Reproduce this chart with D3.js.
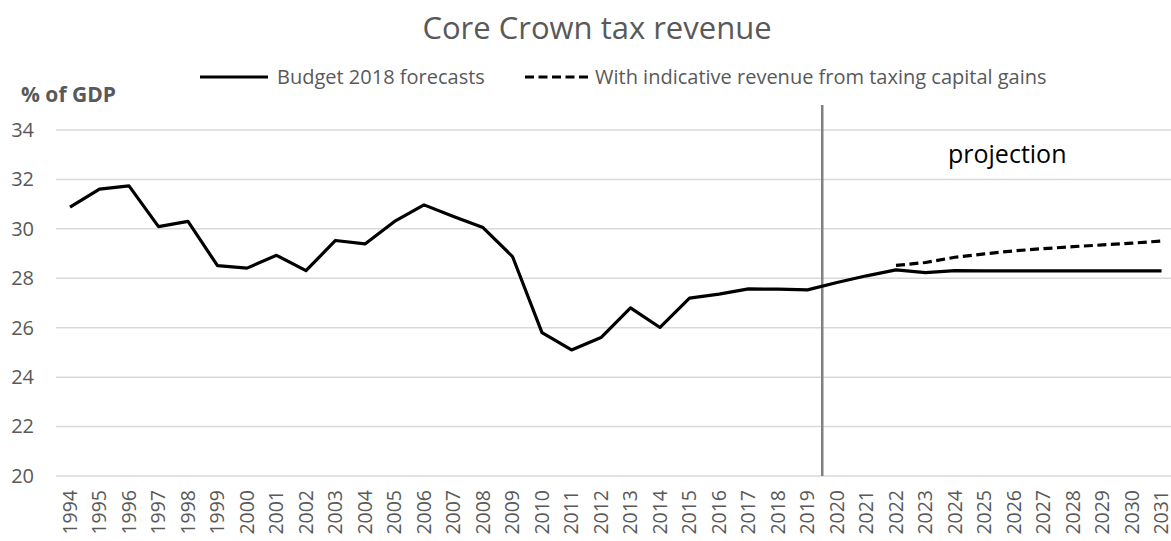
<!DOCTYPE html>
<html>
<head>
<meta charset="utf-8">
<script src="https://cdn.jsdelivr.net/npm/d3@7"></script>
<style>
  html, body { margin: 0; padding: 0; background: #fff; }
  svg { display: block; font-family: "Open Sans", "Noto Sans", sans-serif; }
</style>
</head>
<body>
<svg id="chart" width="1171" height="541"></svg>
<script>
// Fiscal years shown on the category axis
const years = d3.range(1994, 2032).map(String);

// Core Crown tax revenue, % of GDP (Budget 2018 forecasts)
const budgetForecast = [
  30.88, 31.61, 31.74, 30.09, 30.30, 28.51, 28.41, 28.93, 28.31, 29.53,
  29.39, 30.30, 30.97, 30.50, 30.05, 28.88, 25.80, 25.10, 25.60, 26.80,
  26.01, 27.20, 27.36, 27.57, 27.56, 27.53, 27.83, 28.10, 28.34, 28.23,
  28.31, 28.30, 28.30, 28.30, 28.30, 28.30, 28.30, 28.30
];

// With indicative revenue from taxing capital gains (from 2022)
const withCapitalGains = [
  null, null, null, null, null, null, null, null, null, null,
  null, null, null, null, null, null, null, null, null, null,
  null, null, null, null, null, null, null, null, 28.52, 28.64,
  28.85, 28.99, 29.11, 29.20, 29.28, 29.35, 29.42, 29.51
];

const yTicks = [20, 22, 24, 26, 28, 30, 32, 34];
const seriesNames = ["Budget 2018 forecasts", "With indicative revenue from taxing capital gains"];
const projectionStart = "2020";

const svg = d3.select("#chart");
const textColor = "#595959";

const x = d3.scalePoint().domain(years).range([55.25, 1176.25]).padding(0.5);
const y = d3.scaleLinear().domain([20, 34]).range([476, 130]);
const step = x.step();

// Title
svg.append("text")
  .attr("x", 597).attr("y", 39)
  .attr("text-anchor", "middle")
  .attr("font-size", 31)
  .attr("fill", textColor)
  .text("Core Crown tax revenue");

// Horizontal gridlines
svg.append("g")
  .selectAll("line")
  .data(yTicks)
  .join("line")
  .attr("x1", 56).attr("x2", 1176)
  .attr("y1", d => y(d)).attr("y2", d => y(d))
  .attr("stroke", "#d9d9d9")
  .attr("stroke-width", 1.5);

// Y axis labels
const yAxis = svg.append("g")
  .attr("transform", "translate(34,0)")
  .call(d3.axisLeft(y).tickValues(yTicks).tickSize(0).tickPadding(0));
yAxis.select(".domain").remove();
yAxis.selectAll("text")
  .attr("font-family", "\"Open Sans\", sans-serif")
  .attr("font-size", 20)
  .attr("fill", textColor);

svg.append("text")
  .attr("x", 21).attr("y", 102)
  .attr("font-size", 21)
  .attr("font-weight", "bold")
  .attr("fill", textColor)
  .text("% of GDP");

// X axis labels, rotated
const xAxis = svg.append("g")
  .attr("transform", "translate(0,490)")
  .call(d3.axisBottom(x).tickSize(0).tickPadding(0));
xAxis.select(".domain").remove();
xAxis.selectAll("text")
  .attr("font-family", "\"Open Sans\", sans-serif")
  .attr("font-size", 19.5)
  .attr("fill", textColor)
  .attr("text-anchor", "end")
  .attr("transform", "rotate(-90)")
  .attr("x", 0).attr("y", 0)
  .attr("dy", "0.33em");

// Boundary between history and projection
const splitX = x(projectionStart) - step / 2;
svg.append("line")
  .attr("x1", splitX).attr("x2", splitX)
  .attr("y1", 105).attr("y2", 476)
  .attr("stroke", "#808080")
  .attr("stroke-width", 2.5);

svg.append("text")
  .attr("x", 948).attr("y", 163)
  .attr("font-size", 25)
  .attr("fill", "#000")
  .text("projection");

// Series lines
const line = d3.line()
  .defined(d => d.v != null)
  .x(d => x(d.year))
  .y(d => y(d.v));

const budgetData = years.map((year, i) => ({ year, v: budgetForecast[i] }));
const gainsData = years.map((year, i) => ({ year, v: withCapitalGains[i] }));

svg.append("path")
  .datum(gainsData)
  .attr("d", line)
  .attr("fill", "none")
  .attr("stroke", "#000")
  .attr("stroke-width", 3.2)
  .attr("stroke-dasharray", "9,4.5");

svg.append("path")
  .datum(budgetData)
  .attr("d", line)
  .attr("fill", "none")
  .attr("stroke", "#000")
  .attr("stroke-width", 3.2)
  .attr("stroke-linejoin", "round");

// Legend
const legend = svg.append("g");
const legendItems = [
  { name: seriesNames[0], x0: 200, x1: 268, tx: 277, dash: null },
  { name: seriesNames[1], x0: 525, x1: 591, tx: 595, dash: "9,4.5" }
];
legendItems.forEach(item => {
  legend.append("line")
    .attr("x1", item.x0).attr("x2", item.x1)
    .attr("y1", 77).attr("y2", 77)
    .attr("stroke", "#000")
    .attr("stroke-width", 3.2)
    .attr("stroke-dasharray", item.dash);
  legend.append("text")
    .attr("x", item.tx).attr("y", 84)
    .attr("font-size", 20)
    .attr("fill", textColor)
    .text(item.name);
});
</script>
</body>
</html>
